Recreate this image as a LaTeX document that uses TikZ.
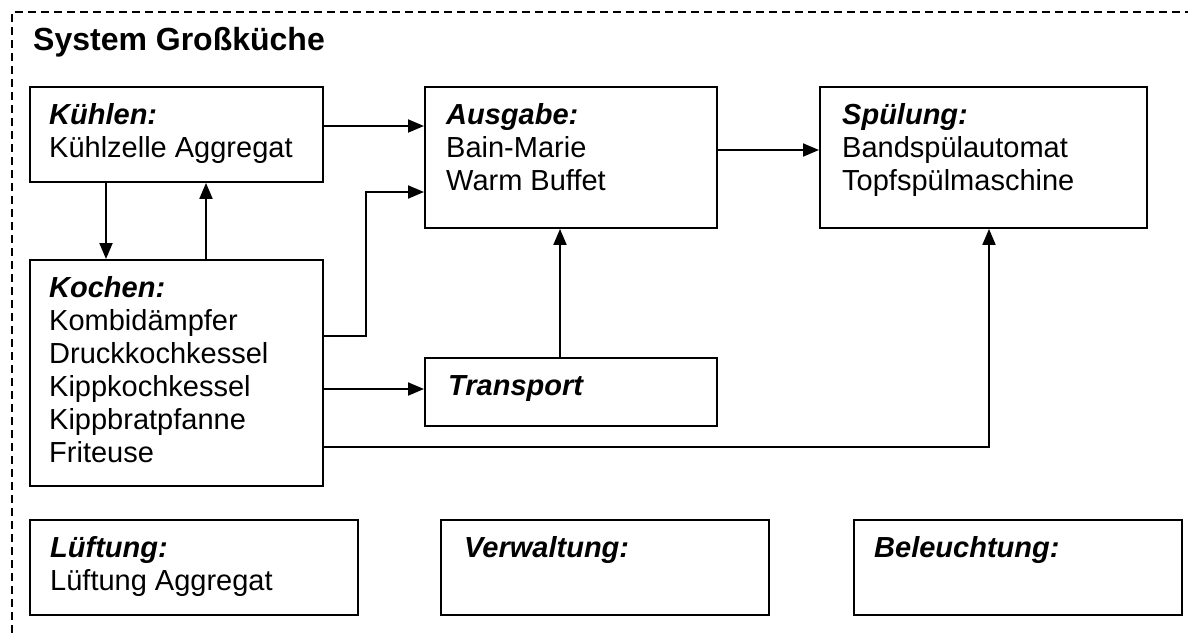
\documentclass[tikz,border=0pt]{standalone}
\usepackage{fontspec}
\setmainfont{Liberation Sans}
\usetikzlibrary{arrows.meta}
\begin{document}
\begin{tikzpicture}[x=1pt,y=-1pt,
  box/.style={draw, line width=1.9pt, anchor=north west, inner sep=0pt, rectangle},
  txt/.style={anchor=base west, align=left, inner sep=0pt, font=\fontsize{29}{33}\selectfont},
  arr/.style={line width=1.9pt, -{Triangle[length=16pt,width=13pt]}},
  frame/.style={line width=1.5pt, dash pattern=on 8pt off 5pt}]
\useasboundingbox (0,0) rectangle (1188,633);
\draw[frame] (12,633) -- (12,12) -- (1188,12);
\node[anchor=base west, inner sep=0pt, font=\fontsize{32}{36}\selectfont\bfseries] (title) at (33,50) {System Großküche};
% boxes
\node[box, minimum width=293pt, minimum height=95pt] (kuehl) at (29,86) {};
\node[box, minimum width=292pt, minimum height=141pt] (ausg) at (424,86) {};
\node[box, minimum width=327pt, minimum height=141pt] (spuel) at (819,86) {};
\node[box, minimum width=293pt, minimum height=226pt] (koch) at (29,259) {};
\node[box, minimum width=292pt, minimum height=68pt] (trans) at (424,357) {};
\node[box, minimum width=328pt, minimum height=95pt] (lueft) at (29,519) {};
\node[box, minimum width=328pt, minimum height=95pt] (verw) at (440,519) {};
\node[box, minimum width=328pt, minimum height=95pt] (bel) at (853,519) {};
% texts (anchor = baseline of the last line)
\node[txt] (tkuehl) at ([xshift=20pt,yshift=-71pt]kuehl.north west) {{\bfseries\itshape Kühlen:}\\Kühlzelle Aggregat};
\node[txt] (tausg) at ([xshift=22pt,yshift=-104pt]ausg.north west) {{\bfseries\itshape Ausgabe:}\\Bain-Marie\\Warm Buffet};
\node[txt] (tspuel) at ([xshift=23pt,yshift=-104pt]spuel.north west) {{\bfseries\itshape Spülung:}\\Bandspülautomat\\Topfspülmaschine};
\node[txt] (tkoch) at ([xshift=20pt,yshift=-203pt]koch.north west) {{\bfseries\itshape Kochen:}\\Kombidämpfer\\Druckkochkessel\\Kippkochkessel\\Kippbratpfanne\\Friteuse};
\node[txt] (ttrans) at ([xshift=24pt,yshift=-38pt]trans.north west) {{\bfseries\itshape Transport}};
\node[txt] (tlueft) at ([xshift=21pt,yshift=-71pt]lueft.north west) {{\bfseries\itshape Lüftung:}\\Lüftung Aggregat};
\node[txt] (tverw) at ([xshift=24pt,yshift=-38pt]verw.north west) {{\bfseries\itshape Verwaltung:}};
\node[txt] (tbel) at ([xshift=21pt,yshift=-38pt]bel.north west) {{\bfseries\itshape Beleuchtung:}};
% connectors
\draw[arr] ([yshift=-40pt]kuehl.north east) -- ([yshift=-40pt]ausg.north west);
\draw[arr] ([xshift=77pt]kuehl.south west) -- ([xshift=77pt]koch.north west);
\draw[arr] ([xshift=177pt]koch.north west) -- ([xshift=177pt]kuehl.south west);
\draw[arr] ([yshift=-77pt]koch.north east) -- ++(42,0) |- ([yshift=-106pt]ausg.north west);
\draw[arr] ([yshift=-130pt]koch.north east) -- ([yshift=-32pt]trans.north west);
\draw[arr] ([xshift=136pt]trans.north west) -- ([xshift=136pt]ausg.south west);
\draw[arr] ([yshift=-64pt]ausg.north east) -- ([yshift=-64pt]spuel.north west);
\draw[arr] ([yshift=-188pt]koch.north east) -| ([xshift=170pt]spuel.south west);
\end{tikzpicture}
\end{document}
